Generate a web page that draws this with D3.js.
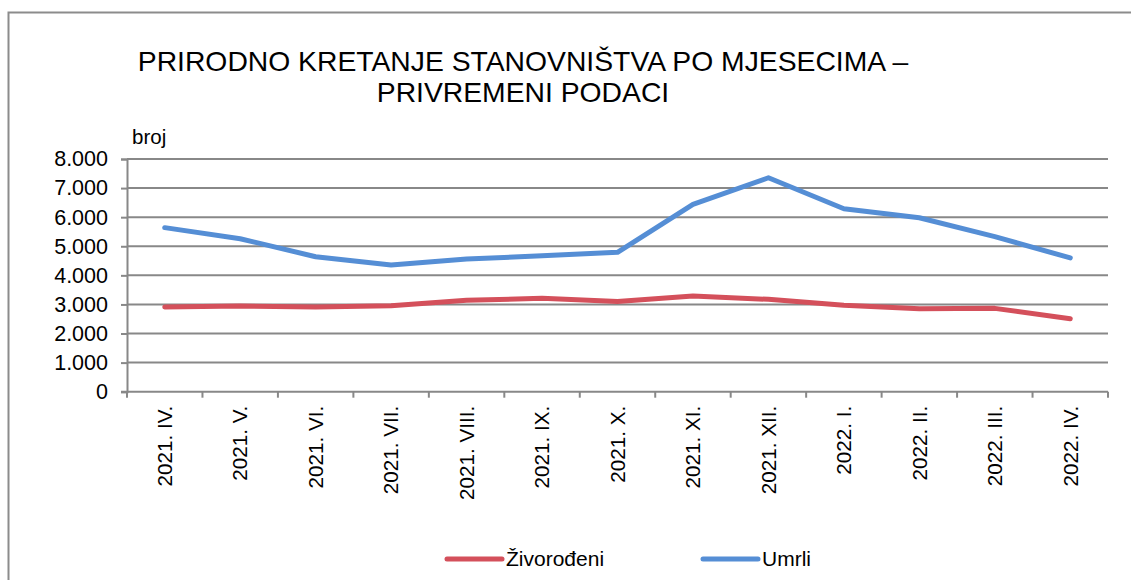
<!DOCTYPE html>
<html>
<head>
<meta charset="utf-8">
<script src="https://cdn.jsdelivr.net/npm/d3@7"></script>
<style>
  html, body { margin: 0; padding: 0; background: #fff; }
  svg { display: block; font-family: "Liberation Sans", Arial, sans-serif; }
</style>
</head>
<body>
<script>
// Chart data
const months = ['2021. IV.', '2021. V.', '2021. VI.', '2021. VII.', '2021. VIII.', '2021. IX.',
  '2021. X.', '2021. XI.', '2021. XII.', '2022. I.', '2022. II.', '2022. III.', '2022. IV.']
const zivorodeni = [2910, 2945, 2910, 2955, 3140, 3210, 3105, 3290, 3175, 2970, 2855, 2865, 2510]
const umrli = [5640, 5260, 4640, 4355, 4560, 4675, 4790, 6440, 7355, 6290, 5980, 5330, 4600]
const yTicks = [0, 1000, 2000, 3000, 4000, 5000, 6000, 7000, 8000]
const titleLines = ['PRIRODNO KRETANJE STANOVNIŠTVA PO MJESECIMA –', 'PRIVREMENI PODACI']

const series = [
  { name: 'Živorođeni', values: zivorodeni, color: '#D4505B' },
  { name: 'Umrli', values: umrli, color: '#558ED5' }
]

const width = 1131
const height = 580
const plot = { left: 127, right: 1108, top: 159, bottom: 391.7 }
const grid = '#888888'

const svg = d3.select('body').append('svg')
  .attr('width', width)
  .attr('height', height)

// outer frame (open to the right and bottom, like the crop)
svg.append('path')
  .attr('d', `M8.5,${height + 2}V12.5H${width + 2}`)
  .attr('fill', 'none')
  .attr('stroke', '#8c8c8c')
  .attr('stroke-width', 2)

// Title
svg.append('text')
  .attr('x', 523)
  .attr('y', 71)
  .attr('text-anchor', 'middle')
  .attr('font-size', 28.3)
  .attr('fill', '#000')
  .selectAll('tspan')
  .data(titleLines)
  .join('tspan')
  .attr('x', 523)
  .attr('dy', (_, i) => i === 0 ? 0 : 31)
  .text(d => d)

svg.append('text')
  .attr('x', 132)
  .attr('y', 144)
  .attr('font-size', 20.5)
  .text('broj')

const x = d3.scaleBand()
  .domain(months)
  .range([plot.left, plot.right])
  .padding(0)

const y = d3.scaleLinear()
  .domain([0, 8000])
  .range([plot.bottom, plot.top])

const fmt = d3.formatLocale({ decimal: ',', thousands: '.', grouping: [3], currency: ['', ''] }).format(',')

// Gridlines
svg.append('g')
  .selectAll('line')
  .data(yTicks.filter(d => d > 0))
  .join('line')
  .attr('x1', plot.left)
  .attr('x2', plot.right)
  .attr('y1', d => y(d))
  .attr('y2', d => y(d))
  .attr('stroke', grid)
  .attr('stroke-width', 2)

// Y axis
const yAxis = svg.append('g')
  .attr('transform', `translate(${plot.left}, 0)`)
  .call(d3.axisLeft(y).tickValues(yTicks).tickFormat(fmt).tickSize(6).tickPadding(13))
yAxis.select('.domain').attr('stroke', grid).attr('stroke-width', 2)
yAxis.selectAll('.tick line').attr('stroke', grid).attr('stroke-width', 2)
yAxis.selectAll('text')
  .attr('font-family', '"Liberation Sans", Arial, sans-serif')
  .attr('font-size', 21.5)
  .attr('fill', '#000')

// X axis: ticks at category boundaries
const xAxis = svg.append('g')
  .attr('transform', `translate(0, ${plot.bottom})`)
xAxis.append('line')
  .attr('x1', plot.left - 6)
  .attr('x2', plot.right)
  .attr('stroke', grid)
  .attr('stroke-width', 2)
xAxis.selectAll('line.tk')
  .data(months.concat(['end']))
  .join('line')
  .attr('class', 'tk')
  .attr('x1', (d, i) => i < months.length ? x(d) : plot.right)
  .attr('x2', (d, i) => i < months.length ? x(d) : plot.right)
  .attr('y1', 0)
  .attr('y2', 6)
  .attr('stroke', grid)
  .attr('stroke-width', 2)
xAxis.selectAll('text')
  .data(months)
  .join('text')
  .attr('transform', d => `translate(${x(d) + x.bandwidth() / 2}, 14) rotate(-90)`)
  .attr('text-anchor', 'end')
  .attr('dy', '0.35em')
  .attr('font-size', 20.7)
  .attr('fill', '#000')
  .text(d => d)

// Lines
const line = d3.line()
  .x((_, i) => x(months[i]) + x.bandwidth() / 2)
  .y(d => y(d))

svg.append('g')
  .selectAll('path')
  .data(series)
  .join('path')
  .attr('d', d => line(d.values))
  .attr('fill', 'none')
  .attr('stroke', d => d.color)
  .attr('stroke-width', 5)
  .attr('stroke-linecap', 'round')
  .attr('stroke-linejoin', 'round')

// Legend
const legendX = [447, 703]
const legend = svg.append('g')
  .selectAll('g')
  .data(series)
  .join('g')
  .attr('transform', (_, i) => `translate(${legendX[i]}, 559)`)
legend.append('line')
  .attr('x1', 0)
  .attr('x2', 55)
  .attr('stroke', d => d.color)
  .attr('stroke-width', 5)
  .attr('stroke-linecap', 'round')
legend.append('text')
  .attr('x', 59)
  .attr('y', 7)
  .attr('font-size', 21)
  .attr('fill', '#000')
  .text(d => d.name)
</script>
</body>
</html>
